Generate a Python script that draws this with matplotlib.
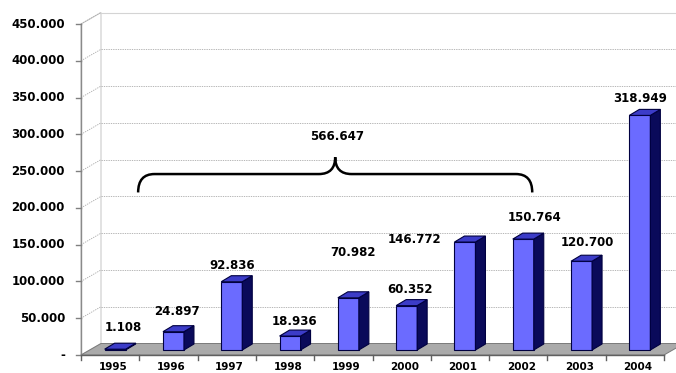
import matplotlib

matplotlib.use("Agg")
import matplotlib.pyplot as plt
from matplotlib.patches import Polygon, PathPatch
from matplotlib.path import Path

YEARS = ["1995", "1996", "1997", "1998", "1999",
         "2000", "2001", "2002", "2003", "2004"]
VALUES = [1108, 24897, 92836, 18936, 70982,
          60352, 146772, 150764, 120700, 318949]
Y_TICKS = [0, 50000, 100000, 150000, 200000, 250000, 300000, 350000, 400000, 450000]
BRACE_FIRST, BRACE_LAST = 0, 7          # 1995 .. 2002

# label nudges in pixels (the source labels were moved by hand)
LABEL_DX = [8, 3, 0, 4, 5, 3, -50, 11, 6, 0]
LABEL_DY = [22, 20, 16, 15, 45, 16, 3, 22, 19, 17]

W, H = 676, 373
FRONT_L, FRONT_R, FRONT_B, FRONT_T = 81, 664, 355, 24

fig = plt.figure(figsize=(W / 100, H / 100), dpi=100)
ax = fig.add_axes([FRONT_L / W, (H - FRONT_B) / H,
                   (FRONT_R - FRONT_L) / W, (FRONT_B - FRONT_T) / H])
n = len(YEARS)
ymax = Y_TICKS[-1]
ax.set_xlim(-0.5, n - 0.5)
ax.set_ylim(0, ymax)
ax.axis("off")

# pixel -> data unit helpers
PX = n / (FRONT_R - FRONT_L)
PY = ymax / (FRONT_B - FRONT_T)
DX, DY = 20 * PX, 11.5 * PY             # full depth of the box
SX, SY = 5 * PX, 5 * PY                 # bar front face offset
BX, BY = 10 * PX, 6 * PY                # bar depth
BW = 21 * PX

GRID = "#ababab"
DOTS = (0, (1.6, 1.2))
FONT = dict(family="DejaVu Sans", fontweight="bold")
x0 = -0.5

# left wall and back wall
ax.add_patch(Polygon([(x0, 0), (x0 + DX, DY), (x0 + DX, ymax + DY), (x0, ymax)],
                     closed=True, facecolor="white", edgecolor="#cccccc",
                     lw=0.8, clip_on=False, zorder=1))
for v in Y_TICKS[1:]:
    top = v == ymax
    ax.plot([x0 + DX, n - 0.5 + DX + 1], [v + DY, v + DY],
            color="#d4d4d4" if top else GRID, lw=0.8 if top else 0.6,
            ls="-" if top else DOTS, clip_on=False, zorder=1)
    ax.plot([x0, x0 + DX], [v, v + DY], color=GRID, lw=0.6, ls=DOTS,
            clip_on=False, zorder=1)

# floor
ax.add_patch(Polygon([(x0, 0), (n - 0.5, 0), (n - 0.5 + DX, DY), (x0 + DX, DY)],
                     closed=True, facecolor="#aaaaaa", edgecolor="#7a7a7a",
                     lw=0.7, clip_on=False, zorder=2))

# front axes
ax.plot([x0, x0], [0, ymax], color="#8a8a8a", lw=1.0, clip_on=False, zorder=3)
ax.plot([x0, n - 0.5], [0, 0], color="#606060", lw=1.0, clip_on=False, zorder=3)
for v in Y_TICKS:
    ax.plot([x0 - 5 * PX, x0], [v, v], color="#808080", lw=1.0, clip_on=False, zorder=3)
    lab = "-" if v == 0 else f"{v:,}".replace(",", ".")
    ax.text(x0 - 16 * PX, v, lab, ha="right", va="center", fontsize=8.5,
            color="black", **FONT)
for i in range(n + 1):
    ax.plot([i - 0.5, i - 0.5], [0, -5 * PY], color="#606060", lw=1.0,
            clip_on=False, zorder=3)
for i, yr in enumerate(YEARS):
    ax.text(i + 3 * PX, -12 * PY, yr, ha="center", va="center", fontsize=7.5,
            color="black", **FONT)

# bars
FRONT_C, SIDE_C, TOP_C, EDGE_C = "#6b6bff", "#0a0a5a", "#3c3cc8", "#000040"
xs = [i + SX for i in range(n)]
ax.bar(xs, VALUES, bottom=SY, width=BW, color=FRONT_C, edgecolor=EDGE_C,
       lw=0.8, zorder=5)
for x, v in zip(xs, VALUES):
    l, r, top = x - BW / 2, x + BW / 2, SY + v
    ax.add_patch(Polygon([(r, SY), (r + BX, SY + BY), (r + BX, top + BY), (r, top)],
                         closed=True, facecolor=SIDE_C, edgecolor=EDGE_C,
                         lw=0.8, zorder=5, clip_on=False))
    ax.add_patch(Polygon([(l, top), (r, top), (r + BX, top + BY), (l + BX, top + BY)],
                         closed=True, facecolor=TOP_C, edgecolor=EDGE_C,
                         lw=0.8, zorder=5, clip_on=False))

for x, v, ddx, ddy in zip(xs, VALUES, LABEL_DX, LABEL_DY):
    ax.annotate(f"{v:,}".replace(",", "."), (x, SY + v), xytext=(ddx, ddy),
                textcoords="offset pixels", ha="center", va="center",
                fontsize=8.5, color="black", zorder=6, **FONT)

# curly brace over 1995..2002
xa = BRACE_FIRST + 0.48
xb = BRACE_LAST + 0.24
xm = (xa + xb) / 2
yb, ya, yt = 221000, 246000, 269000
r = 0.28
verts = [(xa, yb), (xa, ya), (xa + r, ya),
         (xm - r, ya), (xm, ya), (xm, yt),
         (xm, ya), (xm + r, ya),
         (xb - r, ya), (xb, ya), (xb, yb)]
codes = [Path.MOVETO, Path.CURVE3, Path.CURVE3,
         Path.LINETO, Path.CURVE3, Path.CURVE3,
         Path.CURVE3, Path.CURVE3,
         Path.LINETO, Path.CURVE3, Path.CURVE3]
ax.add_patch(PathPatch(Path(verts, codes), fill=False, edgecolor="black",
                       lw=1.8, zorder=6, clip_on=False))
total = sum(VALUES[BRACE_FIRST:BRACE_LAST + 1])
ax.text(xm + 0.04, 297000, f"{total:,}".replace(",", "."), ha="center",
        va="center", fontsize=8.5, color="black", **FONT)

fig.savefig("out.png", dpi=100)
